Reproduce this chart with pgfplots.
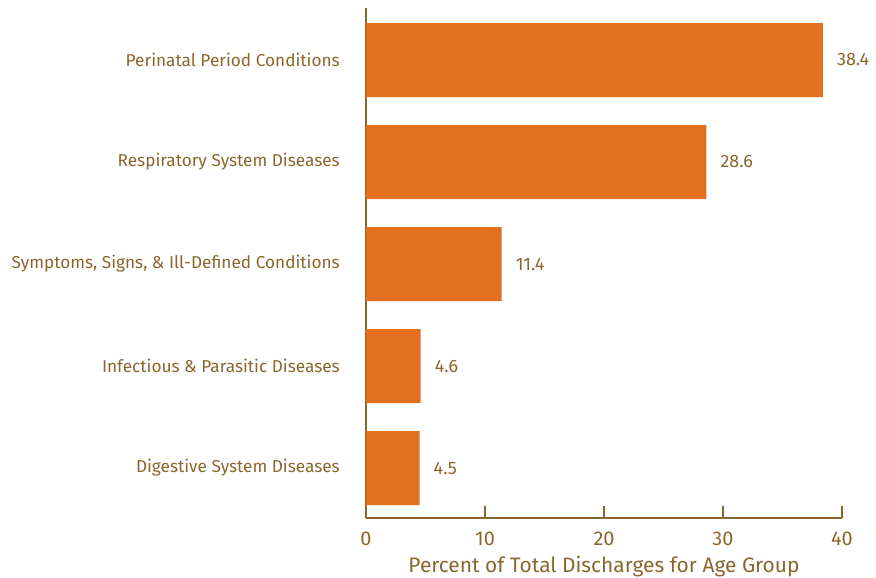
\documentclass[border=0pt]{standalone}
\usepackage{fontspec}
\setmainfont{Fira Sans}
\usepackage{pgfplots}
\pgfplotsset{compat=1.18}

\definecolor{barorange}{HTML}{E3701F}
\definecolor{txtbrown}{HTML}{8B662C}

\begin{document}
\begin{tikzpicture}
\begin{axis}[
  name=ax,
  scale only axis,
  width=476bp, height=510bp,
  xbar, bar width=74bp,
  xmin=0, xmax=40,
  ymin=-0.49, ymax=4.51,
  axis x line*=bottom, axis y line*=left,
  axis line style={txtbrown, line width=1.4bp, -},
  xtick={0,10,20,30,40},
  xtick align=inside,
  major tick length=12bp,
  xtick style={txtbrown, line width=1.4bp},
  ytick={0,1,2,3,4},
  yticklabels={Digestive System Diseases, Infectious \& Parasitic Diseases, {Symptoms, Signs, \& Ill-Defined Conditions}, Respiratory System Diseases, Perinatal Period Conditions},
  ytick style={draw=none},
  y tick label style={font=\fontsize{17.3}{20}\selectfont, text=txtbrown, anchor=east, inner sep=0pt, xshift=-14bp},
  x tick label style={font=\fontsize{20}{22}\selectfont, text=txtbrown, inner sep=0pt, yshift=-14bp},
  /pgf/number format/assume math mode=true,
  xlabel={Percent of Total Discharges for Age Group},
  xlabel style={font=\fontsize{21}{24}\selectfont, text=txtbrown, inner sep=0pt, yshift=-10bp},
  nodes near coords={\pgfmathprintnumber[fixed,fixed zerofill,precision=1]{\pgfplotspointmeta}},
  nodes near coords style={font=\fontsize{18}{20}\selectfont, text=txtbrown, anchor=west, inner sep=0pt, xshift=14bp},
]
\addplot[fill=barorange, draw=none] coordinates {
  (4.5,0) (4.6,1) (11.4,2) (28.6,3) (38.4,4)
};
\end{axis}
\pgfresetboundingbox
\path[use as bounding box] ([shift={(-366bp,-60bp)}]ax.south west) rectangle ([shift={(34bp,8bp)}]ax.north east);
\end{tikzpicture}
\end{document}
